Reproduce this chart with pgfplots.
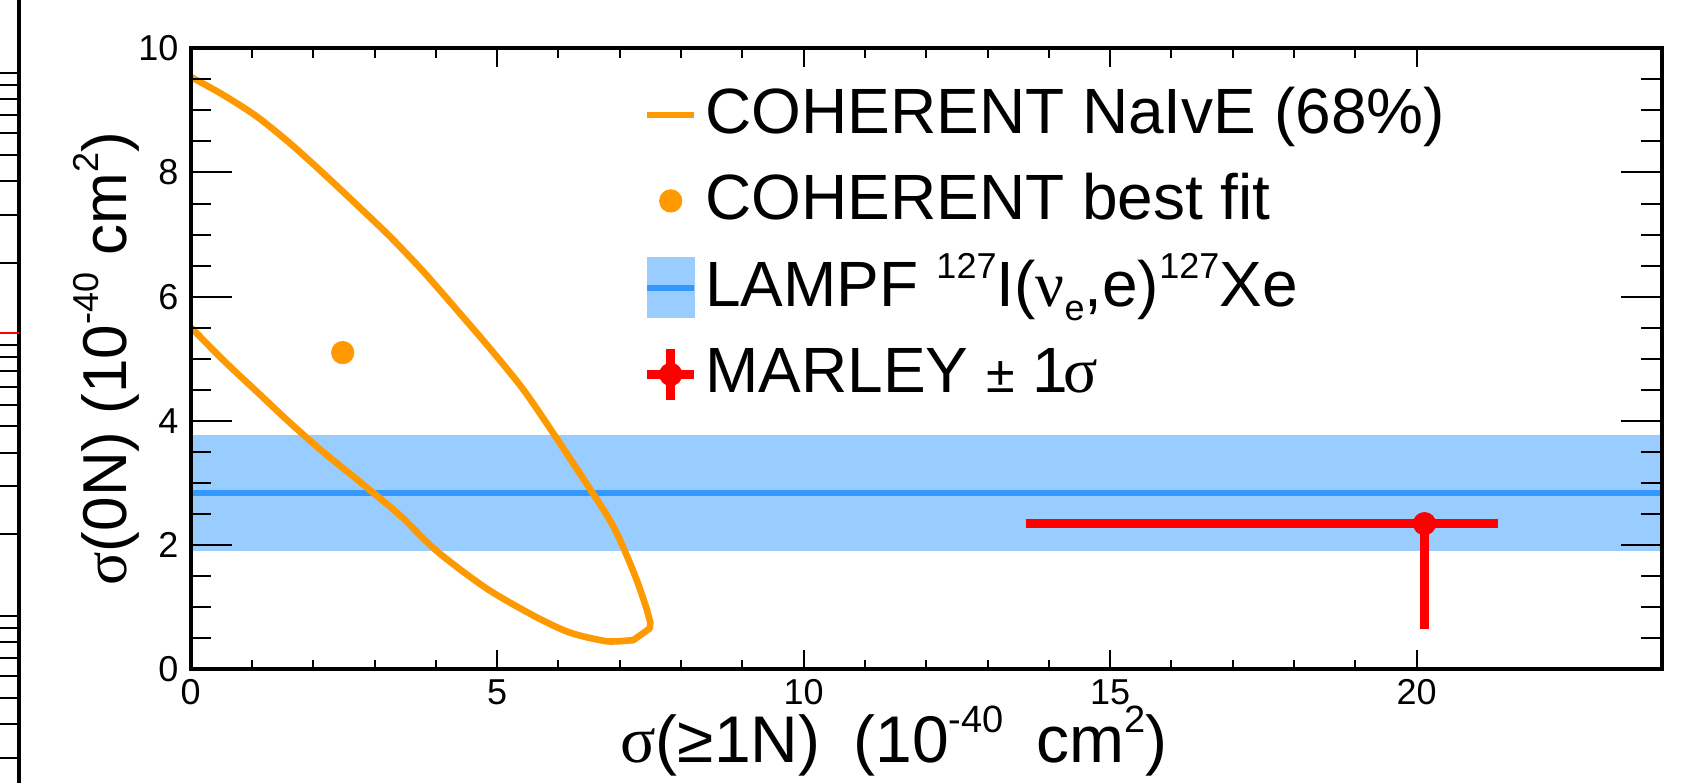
\documentclass[border=0pt]{standalone}
\usepackage{fontspec}
\setmainfont{Liberation Sans}
\newfontfamily\grk{Liberation Serif}
\usepackage{pgfplots}
\pgfplotsset{compat=1.18}
\definecolor{corange}{HTML}{FF9900}
\definecolor{bandblue}{HTML}{99CCFF}
\definecolor{lineblue}{HTML}{3399FF}
\newcommand\sps[1]{\raisebox{14pt}{\fontsize{18}{18}\selectfont #1}}
\newcommand\spx[1]{\raisebox{15pt}{\fontsize{19}{19}\selectfont #1}}
\newcommand\sbs[1]{\raisebox{-7pt}{\fontsize{18}{18}\selectfont #1}}
\begin{document}
\begin{tikzpicture}
\useasboundingbox (-95.35pt,-56.35pt) rectangle (752.65pt,334.65pt);
% edge of the neighbouring panel
\begin{axis}[at={(-105.7pt,-68.24pt)}, anchor=south west, scale only axis,
  width=20pt, height=431.14pt, ymode=log, xmin=0, xmax=1, ymin=0.2, ymax=300,
  axis x line=none, axis y line=right, y axis line style={line width=2pt,-},
  ytick={1,10,100}, minor ytick={0.3,0.4,0.5,0.6,0.7,0.8,0.9,2,3,4,5,6,7,8,9,20,30,40,50,60,70,80,90},
  yticklabels={}, tick align=inside, major tick length=12pt, minor tick length=12pt,
  tick style={black, line width=1pt}, clip=false]
\addplot[red, line width=1pt] coordinates {(0,11.03) (1,11.03)};
\end{axis}
% main axis: data, x ticks, legend
\begin{axis}[at={(0,0)}, anchor=south west, scale only axis,
  width=735.5pt, height=310.5pt,
  xmin=0, xmax=24, ymin=0, ymax=10,
  xtick={0,5,10,15,20}, minor x tick num=4, ytick=\empty,
  tick align=inside, major tick length=9.5pt, minor tick length=4.75pt,
  tick style={black, line width=1pt},
  axis line style={line width=2pt},
  axis on top,
  /pgf/number format/assume math mode=true,
  tick label style={font=\fontsize{18}{18}\selectfont},
  xticklabel style={anchor=north, inner sep=0pt, yshift=-5pt},
  label style={font=\fontsize{33}{33}\selectfont},
  xlabel={{\grk σ}(≥1N)\hspace{0.5em}(10\spx{-40}\hspace{0.5em}cm\spx{2})},
  xlabel style={at={(axis description cs:0.4782,-0.1493)}, anchor=base},
  legend style={draw=none, fill=none, at={(axis description cs:0.3073,0.9404)},
    anchor=north west, inner sep=0pt, outer sep=0pt,
    font=\fontsize{32}{32}\selectfont, row sep=12pt, column sep=3.3pt,
    nodes={inner sep=0pt, text height=24pt, text depth=7pt}},
  legend cell align=left]
\addlegendimage{legend image code/.code={\draw[corange,line width=3.2pt,line cap=butt] (0pt,0.7pt) -- (23.5pt,0.7pt);}}
\addlegendentry{COHERENT NaIvE (68\%)}
\addlegendimage{legend image code/.code={\path[draw=none] (0pt,0pt) -- (23.5pt,0pt); \fill[corange] (11.75pt,0.7pt) circle (5.6pt);}}
\addlegendentry{COHERENT best fit}
\addlegendimage{legend image code/.code={\fill[bandblue] (0pt,-14.3pt) rectangle (23.5pt,15.7pt); \draw[lineblue,line width=3pt,line cap=butt] (0pt,0.7pt) -- (23.5pt,0.7pt);}}
\addlegendentry{LAMPF \sps{127}I({\grk ν}\sbs{e},e)\sps{127}Xe}
\addlegendimage{legend image code/.code={\draw[red,line width=4.5pt,line cap=butt] (0pt,0.7pt) -- (23.5pt,0.7pt); \draw[red,line width=4.5pt,line cap=butt] (11.75pt,-12.2pt) -- (11.75pt,13.6pt); \fill[red] (11.75pt,0.7pt) circle (5.6pt);}}
\addlegendentry{MARLEY {\fontsize{26}{26}\selectfont ±} 1\kern-0.08em{\grk σ}}
% LAMPF band
\addplot[draw=none, fill=bandblue, forget plot] coordinates {(0,1.907) (24,1.907) (24,3.775) (0,3.775)} -- cycle;
\addplot[lineblue, line width=3pt, forget plot] coordinates {(0,2.84) (24,2.84)};
% COHERENT 68% contour: upper branch, tip, lower branch
\addplot[corange, line width=3.3pt, line cap=round, smooth, tension=0.5, forget plot] coordinates {
(0,9.54) (0.53,9.25) (1.08,8.90) (1.62,8.47) (2.16,7.99) (2.71,7.48) (3.25,6.97)
(3.80,6.40) (4.34,5.79) (4.88,5.17) (5.43,4.50) (5.97,3.72) (6.51,2.91) (6.84,2.40)
(7.05,1.98) (7.28,1.43) (7.44,0.97)};
\addplot[corange, line width=3.3pt, line cap=round, line join=round, forget plot] coordinates {
(7.44,0.97) (7.50,0.75) (7.49,0.66) (7.38,0.58) (7.22,0.47)};
\addplot[corange, line width=3.3pt, line cap=round, smooth, tension=0.5, forget plot] coordinates {
(7.22,0.47) (6.95,0.45) (6.73,0.46) (6.19,0.59) (5.64,0.84) (4.83,1.30)
(4.02,1.90) (3.47,2.43) (3.25,2.62) (2.71,3.06) (2.16,3.50) (1.62,3.97) (1.08,4.47)
(0.53,4.98) (0,5.51)};
% best fit
\addplot[only marks, mark=*, mark size=5.6pt, corange, forget plot] coordinates {(2.48,5.10)};
% MARLEY
\addplot[red, only marks, mark=*, mark size=5.6pt, forget plot,
  error bars/.cd, x dir=both, y dir=both, x explicit, y explicit,
  error bar style={line width=4.5pt, red}, error mark=none]
  coordinates {(20.13,2.345) += (1.2,0) -= (6.5,1.7)};
\end{axis}
% overlay axis: y ticks and y label
\begin{axis}[at={(0,0)}, anchor=south west, scale only axis,
  width=735.5pt, height=310.5pt,
  xmin=0, xmax=24, ymin=0, ymax=10,
  xtick=\empty, ytick={0,2,4,6,8,10}, minor y tick num=3,
  tick align=inside, major tick length=20.5pt, minor tick length=10.25pt,
  tick style={black, line width=1pt},
  axis line style={line width=2pt},
  /pgf/number format/assume math mode=true,
  tick label style={font=\fontsize{18}{18}\selectfont},
  yticklabel style={anchor=east, inner sep=0pt, xshift=-6pt},
  label style={font=\fontsize{31}{31}\selectfont},
  ylabel={{\grk σ}(0N) (10\sps{-40} cm\sps{2})},
  ylabel style={at={(axis description cs:-0.0433,0.5)}, anchor=base}]
\addplot[draw=none] coordinates {(0,0)};
\end{axis}
\end{tikzpicture}
\end{document}
